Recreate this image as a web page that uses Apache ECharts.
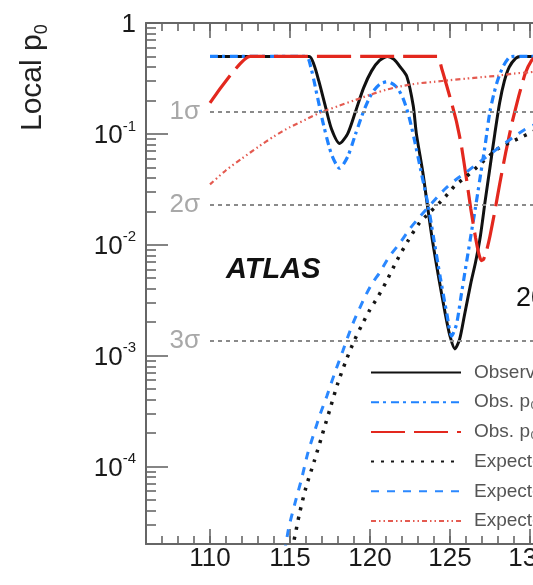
<!DOCTYPE html>
<html><head><meta charset="utf-8">
<script src="https://cdn.jsdelivr.net/npm/echarts@6/dist/echarts.min.js"></script>
<style>html,body{margin:0;padding:0;background:#fff}#c{width:533px;height:585px}</style>
</head><body><div id="c"></div>
<script>
// ---- data ----
const obsMass = [110,116.2,116.5,116.8,117.2,117.6,118.1,118.6,119.1,119.6,120.1,120.6,121.1,121.5,121.9,122.3,122.7,122.9,123.3,123.6,123.9,124.3,124.7,125.0,125.3,125.6,125.9,126.3,126.6,126.9,127.2,127.5,127.8,128.1,128.4,128.7,129.1,129.4,131.5];
const obsP    = [0.5,0.5,0.42,0.3,0.18,0.11,0.082,0.1,0.16,0.26,0.37,0.46,0.5,0.47,0.4,0.33,0.18,0.1,0.045,0.022,0.011,0.005,0.0024,0.0015,0.00115,0.0014,0.0023,0.0045,0.007,0.012,0.025,0.05,0.1,0.19,0.3,0.4,0.48,0.5,0.5];

const obs8Mass = [110,116.0,116.3,116.7,117.1,117.6,118.1,118.6,119.1,119.6,120.1,120.6,121.1,121.6,122.0,122.4,122.8,123.2,123.6,124.0,124.4,124.8,125.1,125.4,125.7,126.0,126.3,126.6,126.9,127.2,127.5,127.9,128.3,128.7,129.0,131.5];
const obs8P    = [0.5,0.5,0.4,0.22,0.12,0.065,0.049,0.062,0.1,0.16,0.23,0.28,0.295,0.27,0.22,0.15,0.085,0.045,0.024,0.011,0.005,0.0024,0.0015,0.0019,0.0035,0.0065,0.012,0.022,0.042,0.08,0.16,0.28,0.4,0.49,0.5,0.5];

const obs7Mass = [110,112.5,124.2,124.5,124.8,125.1,125.4,125.7,126.0,126.3,126.6,126.8,126.95,127.1,127.3,127.5,127.8,128.1,128.5,128.9,129.3,129.7,130.1,130.4,131.5];
const obs7P    = [0.19,0.5,0.5,0.38,0.27,0.19,0.13,0.08,0.042,0.021,0.0115,0.0083,0.0072,0.0074,0.009,0.012,0.02,0.035,0.07,0.13,0.22,0.35,0.46,0.5,0.5];

const expMass = [114.8,115.2,115.6,116.0,116.5,117.0,117.5,118.0,118.5,119.0,119.5,120.0,120.5,121.0,121.7,122.4,123.1,123.8,124.6,125.3,126.0,127.0,127.9,128.7,129.5,130.5,131.5];
const expP    = [1.2e-5,2e-5,3.8e-5,6.5e-5,1.1e-4,1.9e-4,3.3e-4,5.7e-4,9e-4,1.35e-3,1.9e-3,2.6e-3,3.4e-3,4.6e-3,7.3e-3,0.011,0.0158,0.02,0.026,0.034,0.041,0.055,0.072,0.083,0.094,0.11,0.125];

const exp8Mass = [114.5,114.9,115.3,115.75,116.1,116.5,116.9,117.3,117.8,118.3,118.9,119.6,120.1,120.6,121.2,121.9,122.5,123.1,123.9,124.7,125.4,126.0,127.0,128.1,128.9,129.7,130.5,131.5];
const exp8P    = [1.2e-5,2.7e-5,4.6e-5,8e-5,1.3e-4,2e-4,3e-4,4.3e-4,7e-4,1.1e-3,1.9e-3,3.2e-3,4.4e-3,5.6e-3,7.8e-3,0.0105,0.014,0.0178,0.024,0.032,0.039,0.045,0.058,0.076,0.092,0.11,0.125,0.14];

const exp7Mass = [110,111,112,113,114,115,116,117,118,119,120,121,122,123,124,125,126,127,128,129,130,131.5];
const exp7P    = [0.035,0.047,0.06,0.076,0.095,0.115,0.135,0.158,0.178,0.2,0.225,0.25,0.27,0.285,0.295,0.305,0.315,0.325,0.335,0.35,0.36,0.375];

const legendNames = ['Observed','Obs. p\u2080 \u221As = 8 TeV','Obs. p\u2080 \u221As = 7 TeV','Expected','Expected \u221As = 8 TeV','Expected \u221As = 7 TeV'];

const xMajorTicks = [110,115,120,125,130,135];
const xTickLabels = [110,115,120,125,130];
const yMajorTicks = [1e-4,1e-3,1e-2,1e-1,1];
const yMinorTicks = [3e-5,4e-5,5e-5,6e-5,7e-5,8e-5,9e-5,
  2e-4,3e-4,4e-4,5e-4,6e-4,7e-4,8e-4,9e-4,
  2e-3,3e-3,4e-3,5e-3,6e-3,7e-3,8e-3,9e-3,
  2e-2,3e-2,4e-2,5e-2,6e-2,7e-2,8e-2,9e-2,
  0.2,0.3,0.4,0.5,0.6,0.7,0.8,0.9];
const sigmaP = [0.1587, 0.02275, 0.00135];
const sigmaLabels = ['1\u03C3','2\u03C3','3\u03C3'];
const sigmaStart = 110, sigmaEnd = 135;

// ---- chart ----
const FONT = 'Liberation Sans, Arial, Helvetica, sans-serif';
const AX = '#666666';
const zip = (a, b) => a.map((v, i) => [v, b[i]]);

const gridBox = {left:146, top:23, right:-77, bottom:41, outerBoundsMode:'none'};

// grid 0: minor ticks + frame, grid 1: major ticks + labels, grid 2: data
function lineSeries(name, mass, p, color, width, type, smooth) {
  return {
    name, type:'line', xAxisIndex:4, yAxisIndex:2,
    data: zip(mass, p), showSymbol:false, symbol:'none', smooth:smooth,
    lineStyle:{color, width, type, cap:'butt'}, itemStyle:{color},
    animation:false, clip:true
  };
}

const option = {
  animation:false,
  backgroundColor:'#fff',
  grid:[Object.assign({}, gridBox), Object.assign({}, gridBox), Object.assign({}, gridBox)],
  xAxis:[
    {gridIndex:0, type:'value', min:106, max:135, interval:1, position:'bottom',
     axisLine:{show:true, lineStyle:{color:AX, width:2}},
     axisTick:{show:true, inside:true, length:8, lineStyle:{color:AX, width:1.6}},
     axisLabel:{show:false}, splitLine:{show:false}},
    {gridIndex:0, type:'value', min:106, max:135, interval:1, position:'top',
     axisLine:{show:true, lineStyle:{color:AX, width:2}},
     axisTick:{show:true, inside:true, length:8, lineStyle:{color:AX, width:1.6}},
     axisLabel:{show:false}, splitLine:{show:false}},
    {gridIndex:1, type:'value', min:106, max:135, position:'bottom',
     axisLine:{show:false},
     axisTick:{show:true, inside:true, length:15, customValues:xMajorTicks, lineStyle:{color:AX, width:1.6}},
     axisLabel:{show:true, customValues:xTickLabels, fontSize:26, color:'#1a1a1a', fontFamily:FONT, margin:2},
     splitLine:{show:false}},
    {gridIndex:1, type:'value', min:106, max:135, position:'top',
     axisLine:{show:false},
     axisTick:{show:true, inside:true, length:15, customValues:xMajorTicks, lineStyle:{color:AX, width:1.6}},
     axisLabel:{show:false}, splitLine:{show:false}},
    {gridIndex:2, type:'value', min:106, max:135, show:false, splitLine:{show:false}}
  ],
  yAxis:[
    {gridIndex:0, type:'log', logBase:10, min:2e-5, max:1, position:'left',
     axisLine:{show:true, lineStyle:{color:AX, width:2}},
     axisTick:{show:true, inside:true, length:10, customValues:yMinorTicks, lineStyle:{color:AX, width:1.6}},
     axisLabel:{show:false}, splitLine:{show:false}},
    {gridIndex:1, type:'log', logBase:10, min:2e-5, max:1, position:'left',
     axisLine:{show:false},
     axisTick:{show:true, inside:true, length:22, customValues:yMajorTicks, lineStyle:{color:AX, width:1.6}},
     axisLabel:{show:true, customValues:yMajorTicks, margin:10,
       formatter:function(v){
         if (v > 0.999) return '{b|1}';
         const e = Math.round(Math.log10(v));
         return '{b|10}{s|' + e + '}';
       },
       rich:{
         b:{fontSize:26, color:'#1a1a1a', fontFamily:FONT, lineHeight:30, verticalAlign:'bottom'},
         s:{fontSize:15, color:'#1a1a1a', fontFamily:FONT, lineHeight:30, verticalAlign:'top'}
       }},
     splitLine:{show:false}},
    {gridIndex:2, type:'log', logBase:10, min:2e-5, max:1, show:false, splitLine:{show:false}}
  ],
  legend:{
    orient:'vertical', left:365, top:358, itemWidth:90, itemHeight:14, itemGap:10.7,
    data:legendNames, selectedMode:false,
    itemStyle:{opacity:0, borderWidth:0},
    textStyle:{fontSize:19, color:'#555', fontFamily:FONT, lineHeight:18, padding:[0,0,0,8]}
  },
  graphic:[
    {type:'text', x:33, y:131, rotation:Math.PI/2,
     style:{text:'{a|Local p}{b|0}', align:'left', verticalAlign:'middle',
       rich:{a:{fontSize:30, fontFamily:FONT, fill:'#222', lineHeight:36, verticalAlign:'middle'},
             b:{fontSize:18, fontFamily:FONT, fill:'#222', lineHeight:36, verticalAlign:'bottom'}}}},
    {type:'text', x:226, y:270,
     style:{text:'ATLAS', font:'italic bold 29px ' + FONT, fill:'#111', verticalAlign:'middle', align:'left'}},
    {type:'text', x:516, y:299,
     style:{text:'2011 + 2012', font:'27px ' + FONT, fill:'#111', verticalAlign:'middle', align:'left'}}
  ],
  series:[
    {name:'sigma', type:'line', xAxisIndex:4, yAxisIndex:2, data:[], silent:true,
     markLine:{
       silent:true, symbol:['none','none'], animation:false,
       lineStyle:{color:'#8a8a8a', width:1.8, type:[4,4]},
       label:{show:true, position:'start', distance:10, color:'#a8a8a8', fontSize:26, fontFamily:FONT},
       data: sigmaP.map((p, i) => [
         {coord:[sigmaStart, p], label:{formatter:sigmaLabels[i]}},
         {coord:[sigmaEnd, p]}
       ])
     }},
    lineSeries(legendNames[0], obsMass, obsP, '#111111', 3, 'solid', 0.25),
    lineSeries(legendNames[1], obs8Mass, obs8P, '#1f82ff', 3.2, [8,4,3,5], 0.25),
    lineSeries(legendNames[2], obs7Mass, obs7P, '#e3281e', 3.2, [34,9], 0.15),
    lineSeries(legendNames[3], expMass, expP, '#151515', 3.5, [3,7], 0.25),
    lineSeries(legendNames[4], exp8Mass, exp8P, '#2b88ff', 3, [8,8], 0.25),
    lineSeries(legendNames[5], exp7Mass, exp7P, '#e45a50', 2.2, [5,3,1.5,3,1.5,3], 0.25)
  ]
};

const chart = echarts.init(document.getElementById('c'), null, {renderer:'canvas'});
chart.setOption(option);
</script>
</body></html>
